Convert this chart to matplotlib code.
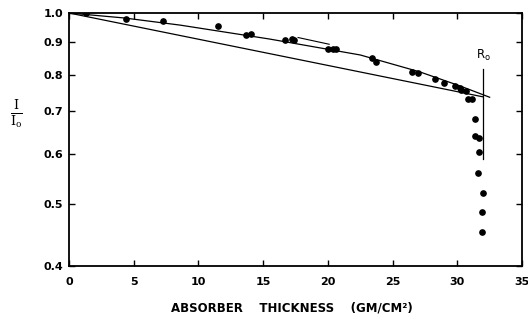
import numpy as np
import matplotlib
matplotlib.use("Agg")
import matplotlib.pyplot as plt
from matplotlib.ticker import FixedLocator, NullLocator

# ─────────────────────────────────────────────
# DATA
# ─────────────────────────────────────────────
# measured points: absorber thickness (g/cm^2) vs I/I0
pts_x = [1.3, 4.4, 7.3, 11.5, 13.7, 14.1, 16.7, 17.2, 17.4, 20.0, 20.4, 20.6,
         23.4, 23.7, 26.5, 27.0, 28.3, 29.0, 29.8, 30.2, 30.3, 30.7, 30.8, 31.1,
         31.4, 31.4, 31.7, 31.7, 31.6, 32.0, 31.9, 31.9]
pts_y = [1.0, 0.979, 0.971, 0.954, 0.923, 0.927, 0.907, 0.910, 0.907, 0.878, 0.878, 0.878,
         0.850, 0.837, 0.808, 0.805, 0.787, 0.776, 0.768, 0.762, 0.757, 0.754, 0.732, 0.732,
         0.681, 0.641, 0.636, 0.604, 0.560, 0.521, 0.486, 0.452]

# hand-drawn curve through the points
curve_x = [0.0, 4.3, 8.6, 15.5, 22.5, 27.1, 30.2, 32.5]
curve_y = [1.0, 0.982, 0.957, 0.910, 0.859, 0.808, 0.768, 0.737]

# straight (exponential) line
line_x = [0.0, 32.0]
line_y = [1.0, 0.738]

# short pointer stroke near x = 18..20
mark_x = [17.7, 20.1]
mark_y = [0.915, 0.893]

# R0 marker
r0_x = 32.0
r0_y = [0.589, 0.816]

xticks = [0, 5, 10, 15, 20, 25, 30, 35]
yticks = [0.4, 0.5, 0.6, 0.7, 0.8, 0.9, 1.0]

plt.rcParams.update({
    "font.family": "DejaVu Sans",
    "xtick.direction": "in",
    "ytick.direction": "in",
})

fig = plt.figure(figsize=(5.28, 3.20), dpi=100)
ax = fig.add_axes([69 / 528, 1 - 266 / 320, (522 - 69) / 528, (266 - 13) / 320])

ax.set_yscale("log")
ax.set_xlim(0, 35)
ax.set_ylim(0.4, 1.0)

ax.plot(curve_x, curve_y, color="black", lw=0.9, zorder=2)
ax.plot(line_x, line_y, color="black", lw=0.9, zorder=2)
ax.plot(mark_x, mark_y, color="black", lw=0.8, zorder=2)
ax.plot([r0_x, r0_x], r0_y, color="black", lw=0.9, zorder=2)
ax.plot(pts_x, pts_y, "o", color="black", ms=3.8, mec="black", zorder=3)

ax.text(32.05, 0.835, r"R$_{\mathsf{o}}$", fontsize=8.5, ha="center", va="bottom")

# ticks on all four sides, pointing inward
ax.xaxis.set_major_locator(FixedLocator(xticks))
ax.set_xticklabels([str(t) for t in xticks])
ax.yaxis.set_major_locator(FixedLocator(yticks))
ax.yaxis.set_minor_locator(NullLocator())
ax.set_yticklabels([f"{t:.1f}" for t in yticks])
ax.tick_params(axis="both", which="major", length=4, width=1.0,
               labelsize=8, top=True, right=True, color="black")
ax.tick_params(axis="x", pad=8)
ax.tick_params(axis="y", pad=4)
for lab in ax.get_xticklabels() + ax.get_yticklabels():
    lab.set_fontweight("semibold")

for sp in ax.spines.values():
    sp.set_linewidth(1.3)

fig.text(16 / 528, 1 - 114 / 320, r"$\frac{\mathrm{I}}{\mathrm{I_o}}$",
         fontsize=13, ha="center", va="center", math_fontfamily="dejavuserif")
fig.text(292 / 528, 1 - 308 / 320, "ABSORBER    THICKNESS    (GM/CM²)",
         fontsize=8.5, fontweight="semibold", ha="center", va="center")

fig.savefig("out.png", dpi=100)
